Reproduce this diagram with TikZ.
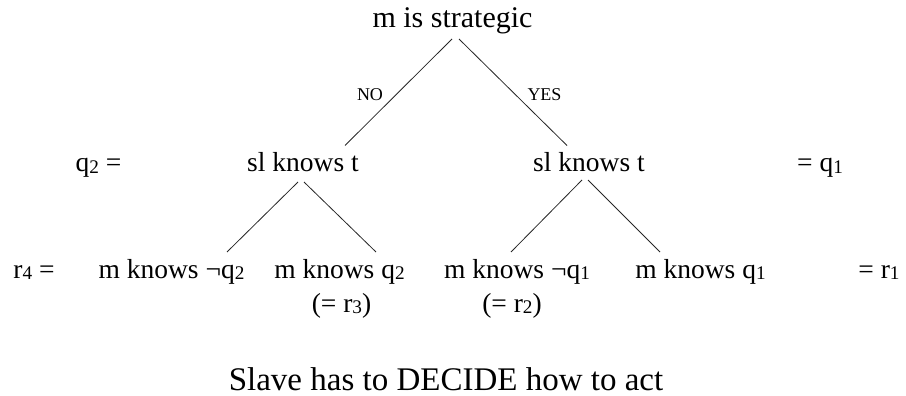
\documentclass[tikz,border=0pt]{standalone}
\usepackage{fontspec}
\setmainfont{Liberation Serif}
\usepackage{graphicx}
\usetikzlibrary{calc}
\newcommand\sbx[1]{\raisebox{-0.06em}{\scalebox{0.7}{#1}}}
\begin{document}
\begin{tikzpicture}[x=1pt,y=-1pt,
  txt/.style={inner sep=0pt,anchor=base,font=\fontsize{27.5}{30}\selectfont},
  lab/.style={inner sep=0pt,anchor=base,font=\fontsize{18}{20}\selectfont},
  edge/.style={line width=0.8pt,draw=black!85}]
\useasboundingbox (0,0) rectangle (906,396);
% level 0
\node[txt,font=\fontsize{30}{32}\selectfont] (root) at (452.5,28) {m is strategic};
% level 1
\node[txt] (q2eq) at (98.5,171.5) {q\sbx{2} =};
\node[txt] (sl1) at (303,171.5) {sl knows t};
\node[txt] (sl2) at (589,171.5) {sl knows t};
\node[txt] (q1eq) at (820,171.5) {= q\sbx{1}};
% level 2
\node[txt] (r4eq) at (34,278) {r\sbx{4} =};
\node[txt] (mnq2) at (171.5,278) {m knows ¬q\sbx{2}};
\node[txt] (mq2) at (339.5,278) {m knows q\sbx{2}};
\node[txt] (r3) at (341.5,312) {(= r\sbx{3})};
\node[txt] (mnq1) at (517,278) {m knows ¬q\sbx{1}};
\node[txt] (r2) at (512,312) {(= r\sbx{2})};
\node[txt] (mq1) at (700.5,278) {m knows q\sbx{1}};
\node[txt] (r1eq) at (879,278) {= r\sbx{1}};
% edge labels
\node[lab] (no) at (370,100) {NO};
\node[lab] (yes) at (544.5,100) {YES};
% bottom
\node[txt,font=\fontsize{33}{36}\selectfont] (slave) at (446,390) {Slave has to DECIDE how to act};
% edges
\draw[edge] ($(root.base)+(-0.5,11)$) -- ($(sl1.base)+(42,-26)$);
\draw[edge] ($(root.base)+(6.5,11)$) -- ($(sl2.base)+(-22,-26)$);
\draw[edge] ($(sl1.base)+(-5,10.5)$) -- ($(mnq2.base)+(55.5,-26)$);
\draw[edge] ($(sl1.base)+(1,10.5)$) -- ($(mq2.base)+(36.5,-26)$);
\draw[edge] ($(sl2.base)+(-7,8.5)$) -- ($(mnq1.base)+(-6,-26)$);
\draw[edge] ($(sl2.base)+(-1,8.5)$) -- ($(mq1.base)+(-40.5,-26)$);
\end{tikzpicture}
\end{document}
